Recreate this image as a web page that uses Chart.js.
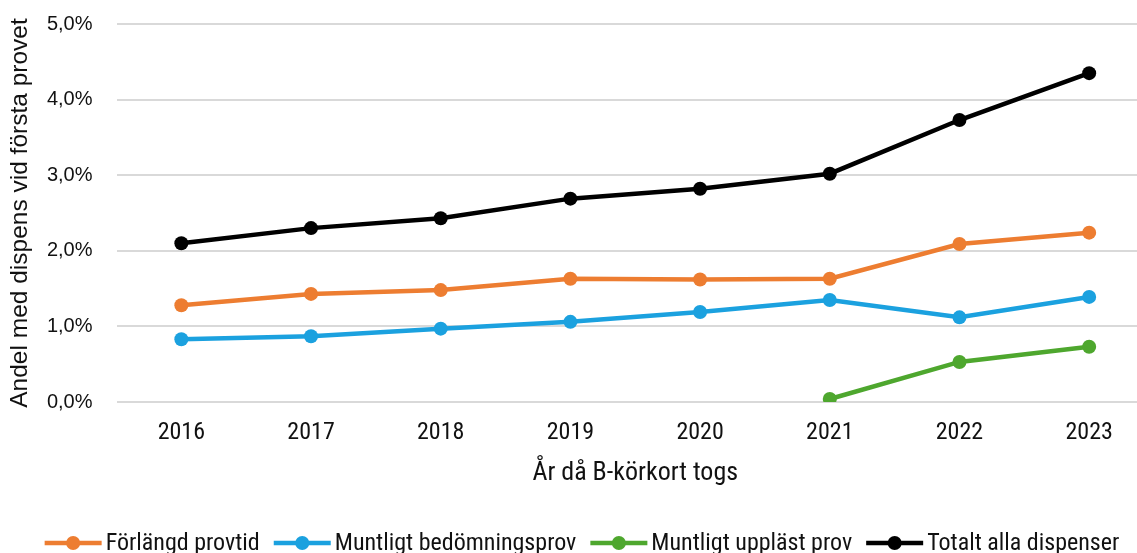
<!DOCTYPE html>
<html>
<head>
<meta charset="utf-8">
<script src="https://cdn.jsdelivr.net/npm/chart.js@4"></script>
<style>
  html, body { margin: 0; padding: 0; background: #fff; overflow: hidden; }
  #wrap { width: 1154px; height: 553px; }
</style>
</head>
<body>
<div id="wrap"><canvas id="chart" width="1154" height="553"></canvas></div>
<script>
// Data (percent)
var years = ['2016', '2017', '2018', '2019', '2020', '2021', '2022', '2023'];
var forlangd = [1.28, 1.43, 1.48, 1.63, 1.62, 1.63, 2.09, 2.24];
var muntligtBedomning = [0.83, 0.87, 0.97, 1.06, 1.19, 1.35, 1.12, 1.39];
var muntligtUpplast = [null, null, null, null, null, 0.04, 0.53, 0.73];
var totalt = [2.10, 2.30, 2.43, 2.69, 2.82, 3.02, 3.73, 4.35];
var yTicks = [0, 1, 2, 3, 4, 5];

var narrow = "'Roboto Condensed', 'Liberation Sans', sans-serif";
var sans = "'Liberation Sans', Arial, sans-serif";

function series(label, data, color) {
  return {
    label: label,
    data: data,
    borderColor: color,
    backgroundColor: color,
    borderWidth: 4.5,
    pointRadius: 7,
    pointHoverRadius: 7,
    pointBorderWidth: 0,
    tension: 0
  };
}

// legend drawn as line + dot, like the original
var lineLegend = {
  id: 'lineLegend',
  afterDraw: function(chart) {
    var ctx = chart.ctx;
    var items = chart.data.datasets;
    ctx.save();
    ctx.font = '24px ' + narrow;
    var lineW = 57, gap = 4, itemGap = 14;
    var total = 0;
    items.forEach(function(d, i) {
      total += lineW + gap + ctx.measureText(d.label).width;
      if (i < items.length - 1) total += itemGap;
    });
    var x = 582 - total / 2;
    var y = 543;
    items.forEach(function(d) {
      ctx.strokeStyle = d.borderColor;
      ctx.fillStyle = d.borderColor;
      ctx.lineWidth = 4.5;
      ctx.beginPath();
      ctx.moveTo(x, y);
      ctx.lineTo(x + lineW, y);
      ctx.stroke();
      ctx.beginPath();
      ctx.arc(x + lineW / 2, y, 7, 0, Math.PI * 2);
      ctx.fill();
      x += lineW + gap;
      ctx.fillStyle = '#111';
      ctx.textBaseline = 'middle';
      ctx.textAlign = 'left';
      ctx.fillText(d.label, x, y + 1);
      x += ctx.measureText(d.label).width + itemGap;
    });
    ctx.restore();
  }
};

new Chart(document.getElementById('chart').getContext('2d'), {
  type: 'line',
  data: {
    labels: years,
    datasets: [
      series('Förlängd provtid', forlangd, '#ED7D31'),
      series('Muntligt bedömningsprov', muntligtBedomning, '#1BA1DF'),
      series('Muntligt uppläst prov', muntligtUpplast, '#4EA72E'),
      series('Totalt alla dispenser', totalt, '#000000')
    ]
  },
  options: {
    responsive: false,
    animation: false,
    layout: { autoPadding: false, padding: { top: 24, bottom: 64, left: 4, right: 0 } },
    scales: {
      x: {
        offset: true,
        grid: { display: false, drawTicks: false },
        border: { display: false },
        ticks: { color: '#111', font: { family: narrow, size: 24 }, padding: 17, maxRotation: 0 },
        title: {
          display: true,
          text: 'År då B-körkort togs',
          color: '#111',
          font: { family: narrow, size: 26 },
          padding: { top: 7, bottom: 0 }
        },
        afterFit: function(scale) {
          scale.height = 87;
          scale.paddingLeft = 0;
          scale.paddingRight = 0;
        }
      },
      y: {
        min: 0,
        max: 5,
        afterBuildTicks: function(axis) {
          axis.ticks = yTicks.map(function(v) { return { value: v }; });
        },
        grid: { color: '#d9d9d9', lineWidth: 2, drawTicks: false },
        border: { display: false },
        ticks: {
          color: '#111',
          font: { family: sans, size: 20 },
          padding: 24,
          callback: function(v) { return v.toFixed(1).replace('.', ',') + '%'; }
        },
        title: {
          display: true,
          text: 'Andel med dispens vid första provet',
          color: '#111',
          font: { family: sans, size: 24.5 },
          padding: { top: 2, bottom: 10 }
        },
        afterFit: function(scale) {
          scale.width = 112.5;
          scale.paddingTop = 0;
          scale.paddingBottom = 0;
        }
      }
    },
    plugins: {
      legend: { display: false },
      tooltip: { enabled: false }
    }
  },
  plugins: [lineLegend]
});
</script>
</body>
</html>
